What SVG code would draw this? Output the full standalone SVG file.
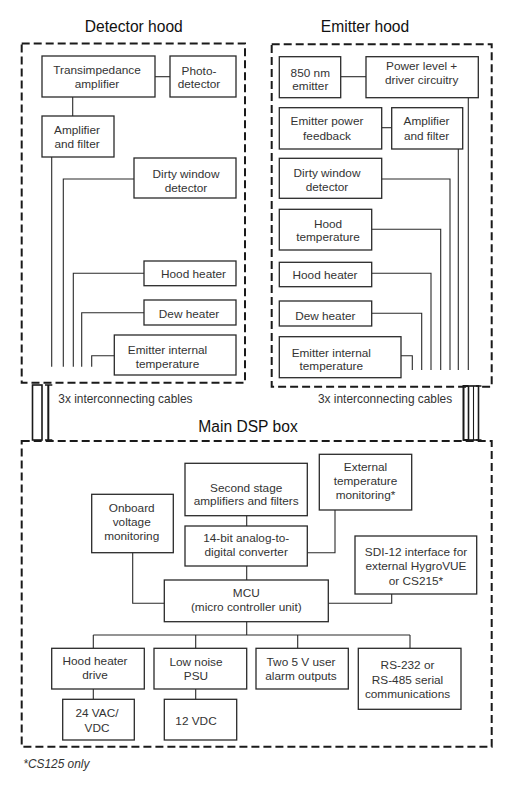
<svg xmlns="http://www.w3.org/2000/svg" width="521" height="794" viewBox="0 0 521 794">
<style>
text{font-family:"Liberation Sans",Arial,sans-serif;font-size:11.8px;fill:#333;text-anchor:middle}
.title{font-size:15.6px;fill:#111}
.lbl{text-anchor:start;font-size:11.9px}
.note{text-anchor:start;font-style:italic;font-size:11.9px}
.box rect, rect.b{fill:#fff;stroke:#2a2a2a;stroke-width:1.3}
.hood{fill:none;stroke:#1a1a1a;stroke-width:2;stroke-dasharray:8 4}
.conn{fill:none;stroke:#2a2a2a;stroke-width:1.1}
.cab{fill:#fff;stroke:#1a1a1a;stroke-width:1.6}
</style>
<rect width="521" height="794" fill="#fff"/>

<!-- enclosures -->
<g id="detector-hood">
<rect class="hood" x="21.7" y="43.5" width="223.3" height="339.2"/>
<text class="title" x="133.8" y="31.7">Detector hood</text>
</g>
<g id="emitter-hood">
<rect class="hood" x="271.7" y="44.3" width="220" height="342.4"/>
<text class="title" x="365" y="31.7">Emitter hood</text>
</g>
<g id="main-dsp-box">
<rect class="hood" x="21.7" y="441" width="470" height="305.7"/>
<text class="title" x="248" y="431.7">Main DSP box</text>
</g>

<!-- connectors -->
<g id="connectors" class="conn">
<!-- detector -->
<line x1="155" y1="76.7" x2="170" y2="76.7"/>
<line x1="72.7" y1="97" x2="72.7" y2="116"/>
<line x1="51.7" y1="157" x2="51.7" y2="366.7"/>
<polyline points="134,179 63.3,179 63.3,366.7"/>
<polyline points="144,273.3 73.3,273.3 73.3,366.7"/>
<polyline points="144,312.7 81.7,312.7 81.7,366.7"/>
<polyline points="114.3,355.7 91.7,355.7 91.7,366.7"/>
<!-- emitter -->
<line x1="340.7" y1="76.7" x2="366" y2="76.7"/>
<line x1="381.7" y1="127.7" x2="391.7" y2="127.7"/>
<line x1="468.3" y1="97.7" x2="468.3" y2="370"/>
<line x1="458.3" y1="149" x2="458.3" y2="370"/>
<polyline points="381.7,179 450,179 450,370"/>
<polyline points="371.7,229.3 440.7,229.3 440.7,370"/>
<polyline points="371.7,273.3 431,273.3 431,370"/>
<polyline points="371.7,313.3 421.7,313.3 421.7,370"/>
<polyline points="401,355.7 412.3,355.7 412.3,370"/>
<!-- main -->
<line x1="246.7" y1="515.7" x2="246.7" y2="526"/>
<line x1="246.7" y1="566" x2="246.7" y2="580"/>
<polyline points="335,510 335,552.7 307.3,552.7"/>
<polyline points="132.7,552.7 132.7,603.3 164.3,603.3"/>
<polyline points="391.7,594 391.7,603.3 328.3,603.3"/>
<line x1="246.7" y1="621.7" x2="246.7" y2="635"/>
<line x1="93.3" y1="635" x2="410" y2="635"/>
<line x1="93.3" y1="635" x2="93.3" y2="648.3"/>
<line x1="195.7" y1="635" x2="195.7" y2="648.3"/>
<line x1="297.7" y1="635" x2="297.7" y2="648.3"/>
<line x1="410" y1="635" x2="410" y2="648.3"/>
<line x1="93.3" y1="689" x2="93.3" y2="699.3"/>
<line x1="195.7" y1="689" x2="195.7" y2="699.3"/>
</g>

<!-- cables -->
<g id="cables-left">
<rect class="cab" x="32.5" y="385" width="9.5" height="55"/>
<line x1="48.3" y1="385" x2="48.3" y2="440" stroke="#1a1a1a" stroke-width="2"/>
<line x1="45" y1="385" x2="52.3" y2="385" stroke="#1a1a1a" stroke-width="1.5"/>
<line x1="45" y1="440" x2="52.3" y2="440" stroke="#1a1a1a" stroke-width="1.5"/>
<text class="lbl" x="58.3" y="402.5">3x interconnecting cables</text>
</g>
<g id="cables-right">
<polyline points="468.5,386 463.5,386 463.5,440 468.5,440" fill="none" stroke="#1a1a1a" stroke-width="2"/>
<rect class="cab" x="468.5" y="386" width="10" height="54"/>
<line x1="473.5" y1="386" x2="473.5" y2="440" stroke="#1a1a1a" stroke-width="1.1"/>
<line x1="476" y1="386" x2="481.5" y2="386" stroke="#1a1a1a" stroke-width="1.5"/>
<line x1="476" y1="440" x2="481.5" y2="440" stroke="#1a1a1a" stroke-width="1.5"/>
<text class="lbl" x="318" y="402.5">3x interconnecting cables</text>
</g>

<!-- detector hood nodes -->
<g id="transimpedance-amplifier" class="box"><rect x="42" y="56" width="113" height="41"/><text x="97" y="74">Transimpedance</text><text x="97" y="87.5">amplifier</text></g>
<g id="photo-detector" class="box"><rect x="170" y="56" width="66" height="41"/><text x="199" y="74.5">Photo-</text><text x="199" y="88">detector</text></g>
<g id="det-amplifier-filter" class="box"><rect x="42" y="116" width="72" height="41"/><text x="77" y="133.5">Amplifier</text><text x="77" y="147.5">and filter</text></g>
<g id="det-dirty-window" class="box"><rect x="134" y="158" width="102" height="40"/><text x="186" y="178">Dirty window</text><text x="186" y="192">detector</text></g>
<g id="det-hood-heater" class="box"><rect x="144" y="261" width="92" height="24.7"/><text x="193.5" y="277.5">Hood heater</text></g>
<g id="det-dew-heater" class="box"><rect x="144" y="300" width="92" height="25"/><text x="189" y="317.5">Dew heater</text></g>
<g id="det-emitter-internal-temp" class="box"><rect x="114.3" y="335" width="121.7" height="40"/><text x="167.5" y="353.5">Emitter internal</text><text x="167.5" y="367.5">temperature</text></g>

<!-- emitter hood nodes -->
<g id="emitter-850nm" class="box"><rect x="279.3" y="56.7" width="61.4" height="41"/><text x="310.3" y="76.5">850 nm</text><text x="310.3" y="90">emitter</text></g>
<g id="power-level-driver" class="box"><rect x="366" y="56.7" width="112.3" height="41"/><text x="421.7" y="70">Power level +</text><text x="421.7" y="84">driver circuitry</text></g>
<g id="emitter-power-feedback" class="box"><rect x="279.3" y="107.7" width="102.4" height="41.3"/><text x="327" y="125">Emitter power</text><text x="327" y="139.5">feedback</text></g>
<g id="emi-amplifier-filter" class="box"><rect x="391.7" y="107.7" width="71" height="41.3"/><text x="426.5" y="125">Amplifier</text><text x="426.5" y="139.5">and filter</text></g>
<g id="emi-dirty-window" class="box"><rect x="279.3" y="158.3" width="102.4" height="40"/><text x="327" y="176.5">Dirty window</text><text x="327" y="190.5">detector</text></g>
<g id="emi-hood-temperature" class="box"><rect x="279.3" y="209.3" width="92.4" height="40.7"/><text x="328" y="227.5">Hood</text><text x="328" y="241">temperature</text></g>
<g id="emi-hood-heater" class="box"><rect x="279.3" y="262.3" width="92.4" height="24.4"/><text x="325" y="278.5">Hood heater</text></g>
<g id="emi-dew-heater" class="box"><rect x="279.3" y="301" width="92.4" height="25"/><text x="325.3" y="319.5">Dew heater</text></g>
<g id="emi-emitter-internal-temp" class="box"><rect x="279.3" y="336.7" width="121.7" height="41"/><text x="331.3" y="356.5">Emitter internal</text><text x="331.3" y="370">temperature</text></g>

<!-- main DSP nodes -->
<g id="second-stage" class="box"><rect x="185" y="463.3" width="122.3" height="52.4"/><text x="246.2" y="491.5">Second stage</text><text x="246.2" y="505">amplifiers and filters</text></g>
<g id="external-temp" class="box"><rect x="319.3" y="454.3" width="92.4" height="55.7"/><text x="365.5" y="470.5">External</text><text x="365.5" y="484.5">temperature</text><text x="365.5" y="498.5">monitoring*</text></g>
<g id="onboard-voltage" class="box"><rect x="91.7" y="494.3" width="81.6" height="58.4"/><text x="131.7" y="512">Onboard</text><text x="131.7" y="526">voltage</text><text x="131.7" y="540">monitoring</text></g>
<g id="adc" class="box"><rect x="185" y="526" width="122.3" height="40"/><text x="246.2" y="542">14-bit analog-to-</text><text x="246.2" y="556">digital converter</text></g>
<g id="sdi12" class="box"><rect x="355" y="536" width="121.7" height="58"/><text x="416" y="555.5">SDI-12 interface for</text><text x="416" y="570">external HygroVUE</text><text x="416" y="584.5">or CS215*</text></g>
<g id="mcu" class="box"><rect x="164.3" y="580" width="164" height="41.7"/><text x="246.3" y="597">MCU</text><text x="246.3" y="611">(micro controller unit)</text></g>
<g id="hood-heater-drive" class="box"><rect x="51.7" y="648.3" width="92.6" height="40.7"/><text x="95" y="664.5">Hood heater</text><text x="95" y="678.5">drive</text></g>
<g id="low-noise-psu" class="box"><rect x="154" y="648.3" width="92.7" height="40.7"/><text x="196" y="666">Low noise</text><text x="196" y="680">PSU</text></g>
<g id="alarm-outputs" class="box"><rect x="256" y="648.3" width="92.3" height="40.7"/><text x="301" y="665.5">Two 5 V user</text><text x="301" y="679.5">alarm outputs</text></g>
<g id="serial-comms" class="box"><rect x="358.3" y="648.3" width="102.7" height="61"/><text x="407.5" y="669">RS-232 or</text><text x="407.5" y="683.5">RS-485 serial</text><text x="407.5" y="698">communications</text></g>
<g id="vac-24" class="box"><rect x="62.7" y="699.3" width="71.6" height="40.7"/><text x="97" y="716.5">24 VAC/</text><text x="97" y="731.5">VDC</text></g>
<g id="vdc-12" class="box"><rect x="164.3" y="699.3" width="72.4" height="40.7"/><text x="196" y="725">12 VDC</text></g>

<text class="note" x="23.3" y="768">*CS125 only</text>
</svg>
